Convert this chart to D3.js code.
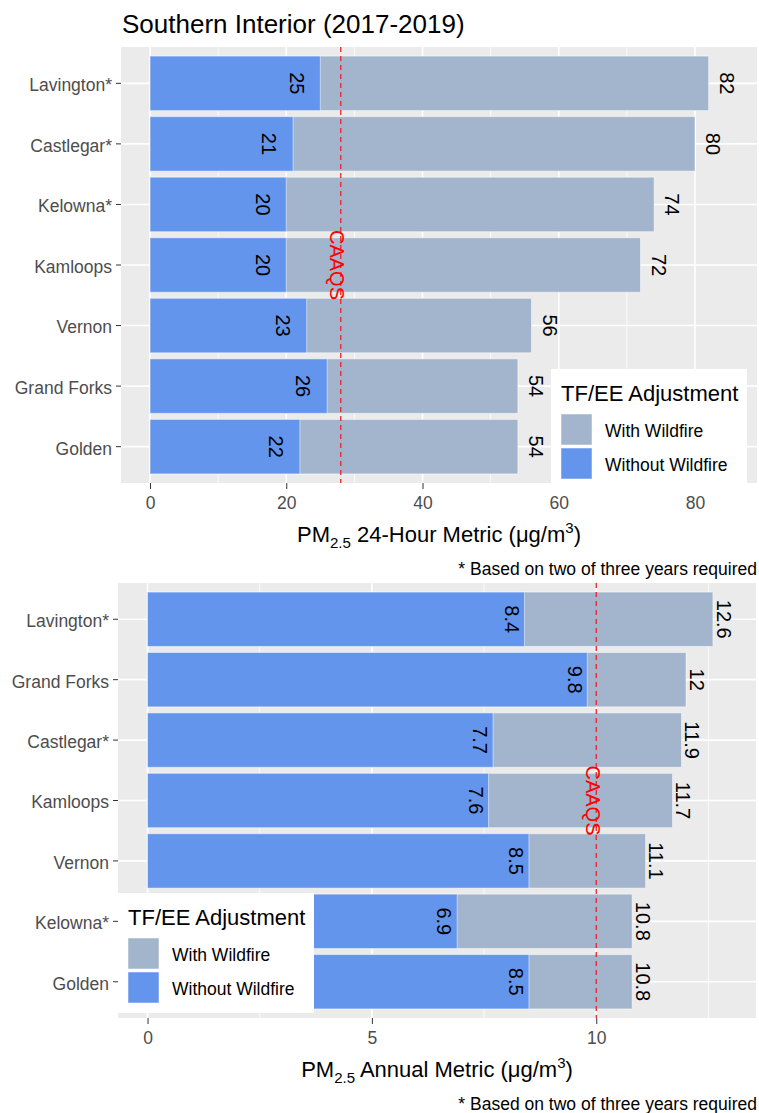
<!DOCTYPE html>
<html>
<meta http-equiv="content-type" content="text/html; charset=utf-8" />
<head>
    <title>Southern Interior PM2.5</title>
</head>

<style>
body { margin: 0; background: #fff; }
svg { font-family: "Liberation Sans", Arial, sans-serif; }
.axis text { font-size: 17.5px; fill: #4D4D4D; }
.axis line { stroke: #333; }
.axis path { display: none; }
</style>

<svg class="chart" width="759" height="1113"></svg>
<script src="https://d3js.org/d3.v7.min.js"></script>

<script type="text/javascript">
  // 24-hour panel
  var sites24 = ["Lavington*", "Castlegar*", "Kelowna*", "Kamloops", "Vernon", "Grand Forks", "Golden"];
  var with24 = [82, 80, 74, 72, 56, 54, 54];
  var without24 = [25, 21, 20, 20, 23, 26, 22];
  var ticks24 = [0, 20, 40, 60, 80];

  // annual panel
  var sitesAnn = ["Lavington*", "Grand Forks", "Castlegar*", "Kamloops", "Vernon", "Kelowna*", "Golden"];
  var withAnn = [12.6, 12, 11.9, 11.7, 11.1, 10.8, 10.8];
  var withoutAnn = [8.4, 9.8, 7.7, 7.6, 8.5, 6.9, 8.5];
  var ticksAnn = [0, 5, 10];

  var seriesNames = ["With Wildfire", "Without Wildfire"];
  var colWith = "#A2B5CD", colWithout = "#6495ED";

  var svg = d3.select(".chart");

  svg.append("text")
    .attr("x", 122).attr("y", 33)
    .style("font-size", "26px")
    .text("Southern Interior (2017-2019)");

  function panel(o) {
    var x = d3.scaleLinear().domain(o.domain).range([o.left, o.right]);
    var y = d3.scaleBand().domain(o.sites).range([o.top, o.bottom])
      .paddingInner(0.1).paddingOuter(0.15);
    var g = svg.append("g");

    g.append("rect")
      .attr("x", o.left).attr("y", o.top)
      .attr("width", o.right - o.left).attr("height", o.bottom - o.top)
      .attr("fill", "#EBEBEB");

    // minor grid
    g.selectAll(".minor").data(o.minor).enter().append("line")
      .attr("x1", function(d) { return x(d); }).attr("x2", function(d) { return x(d); })
      .attr("y1", o.top).attr("y2", o.bottom)
      .attr("stroke", "#fff").attr("stroke-width", 0.8);
    // major grid
    g.selectAll(".major").data(o.ticks).enter().append("line")
      .attr("x1", function(d) { return x(d); }).attr("x2", function(d) { return x(d); })
      .attr("y1", o.top).attr("y2", o.bottom)
      .attr("stroke", "#fff").attr("stroke-width", 1.6);
    g.selectAll(".hgrid").data(o.sites).enter().append("line")
      .attr("x1", o.left).attr("x2", o.right)
      .attr("y1", function(d) { return y(d) + y.bandwidth() / 2; })
      .attr("y2", function(d) { return y(d) + y.bandwidth() / 2; })
      .attr("stroke", "#fff").attr("stroke-width", 1.6);

    var rows = o.sites.map(function(s, i) { return {site: s, w: o.withV[i], wo: o.withoutV[i]}; });

    g.selectAll(".barw").data(rows).enter().append("rect")
      .attr("x", x(0))
      .attr("y", function(d) { return y(d.site); })
      .attr("width", function(d) { return x(d.w) - x(0); })
      .attr("height", y.bandwidth())
      .attr("fill", colWith)
      .attr("stroke", "#fff").attr("stroke-opacity", 0.5).attr("stroke-width", 1);

    g.selectAll(".barwo").data(rows).enter().append("rect")
      .attr("x", x(0))
      .attr("y", function(d) { return y(d.site); })
      .attr("width", function(d) { return x(d.wo) - x(0); })
      .attr("height", y.bandwidth())
      .attr("fill", colWithout)
      .attr("stroke", "#fff").attr("stroke-opacity", 0.5).attr("stroke-width", 1);

    // value labels, rotated
    function label(val, off) {
      return function(d) {
        var cx = x(d[val]) + off, cy = y(d.site) + y.bandwidth() / 2;
        return "translate(" + cx + "," + cy + ") rotate(90)";
      };
    }
    g.selectAll(".lw").data(rows).enter().append("text")
      .attr("transform", label("w", o.outOff))
      .attr("text-anchor", "middle").attr("dy", "0.36em")
      .style("font-size", "20px")
      .text(function(d) { return d.w; });
    g.selectAll(".lwo").data(rows).enter().append("text")
      .attr("transform", label("wo", o.inOff))
      .attr("text-anchor", "middle").attr("dy", "0.36em")
      .style("font-size", "20px")
      .text(function(d) { return d.wo; });

    // CAAQS line
    g.append("line")
      .attr("x1", x(o.caaqs)).attr("x2", x(o.caaqs))
      .attr("y1", o.top).attr("y2", o.bottom)
      .attr("stroke", "#E8232A").attr("stroke-width", 1.3)
      .attr("stroke-dasharray", "5,4");
    g.append("text")
      .attr("transform", "translate(" + (x(o.caaqs) - 3.5) + "," + (y("Kamloops") + y.bandwidth() / 2) + ") rotate(90)")
      .attr("text-anchor", "middle").attr("dy", "0.36em")
      .style("font-size", "20px").attr("fill", "#FF0000")
      .text("CAAQS");

    // axes
    g.append("g").attr("class", "axis")
      .attr("transform", "translate(0," + o.bottom + ")")
      .call(d3.axisBottom(x).tickValues(o.ticks).tickSize(6).tickPadding(8));
    g.append("g").attr("class", "axis")
      .attr("transform", "translate(" + o.left + ",0)")
      .call(d3.axisLeft(y).tickSize(5).tickPadding(4))
      .selectAll("text").attr("dy", "0.45em");

    // axis title
    var t = g.append("text")
      .attr("x", (o.left + o.right) / 2).attr("y", o.bottom + 59)
      .attr("text-anchor", "middle")
      .style("font-size", "22px");
    t.append("tspan").text("PM");
    t.append("tspan").attr("dy", 6).style("font-size", "15px").text("2.5");
    t.append("tspan").attr("dy", -6).text(" " + o.metric + " Metric (\u03bcg/m");
    t.append("tspan").attr("dy", -9).style("font-size", "15px").text("3");
    t.append("tspan").attr("dy", 9).text(")");

    svg.append("text")
      .attr("x", 757).attr("y", o.bottom + 92)
      .attr("text-anchor", "end")
      .style("font-size", "17.5px")
      .text("* Based on two of three years required");

    // legend
    var lg = svg.append("g").attr("transform", "translate(" + o.legX + "," + o.legY + ")");
    lg.append("rect").attr("width", 196).attr("height", 120).attr("fill", "#fff");
    lg.append("text").attr("x", 10).attr("y", 32).style("font-size", "22px").text("TF/EE Adjustment");
    [colWith, colWithout].forEach(function(c, i) {
      lg.append("rect")
        .attr("x", 10).attr("y", 45 + i * 34)
        .attr("width", 31).attr("height", 31)
        .attr("fill", c)
        .attr("stroke", "#fff").attr("stroke-opacity", 0.5).attr("stroke-width", 1);
      lg.append("text")
        .attr("x", 54).attr("y", 45 + i * 34 + 15.5).attr("dy", "0.4em")
        .style("font-size", "17.5px")
        .text(seriesNames[i]);
    });
  }

  panel({
    sites: sites24, withV: with24, withoutV: without24,
    ticks: ticks24, minor: [10, 30, 50, 70],
    domain: [-4.26, 89.1], left: 121, right: 757, top: 47, bottom: 483,
    caaqs: 28, inOff: -23.5, outOff: 18.5, metric: "24-Hour",
    legX: 551, legY: 369
  });

  panel({
    sites: sitesAnn, withV: withAnn, withoutV: withoutAnn,
    ticks: ticksAnn, minor: [2.5, 7.5, 12.5],
    domain: [-0.658, 13.56], left: 118, right: 756, top: 583, bottom: 1018,
    caaqs: 10, inOff: -12.5, outOff: 11, metric: "Annual",
    legX: 118, legY: 893
  });
</script>

</html>
